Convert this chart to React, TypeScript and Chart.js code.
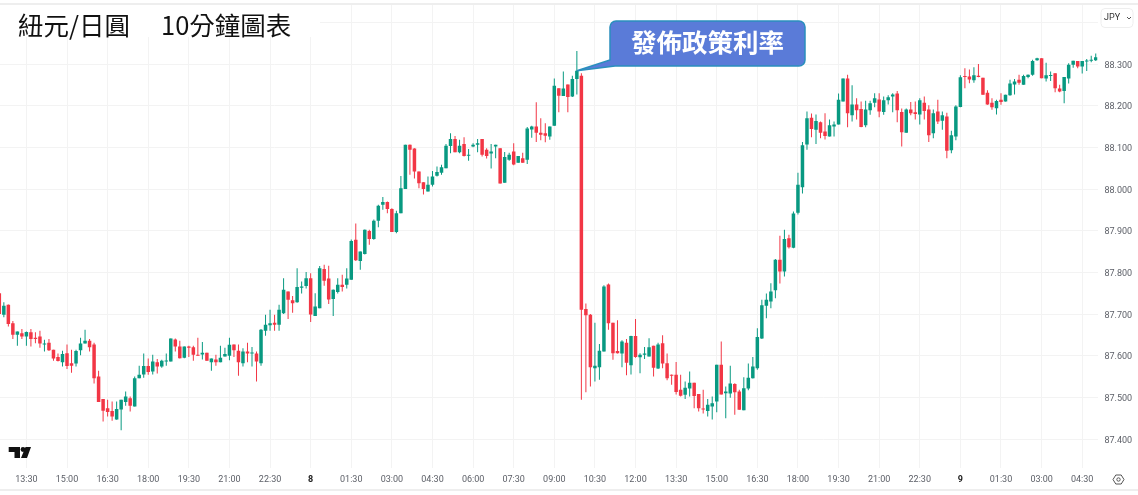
import { Chart, registerables } from "chart.js";
import { useEffect, useRef } from "react";

Chart.register(...registerables);

// NZD/JPY 10 minute candles
const opens = [
  87.750, 87.698, 87.722, 87.678, 87.650, 87.654, 87.646, 87.656, 87.643, 87.646,
  87.627, 87.631, 87.614, 87.597, 87.584, 87.606, 87.582, 87.581, 87.613, 87.629,
  87.636, 87.627, 87.550, 87.496, 87.474, 87.467, 87.447, 87.471, 87.489, 87.498,
  87.478, 87.546, 87.555, 87.575, 87.562, 87.584, 87.574, 87.586, 87.586, 87.639,
  87.622, 87.595, 87.622, 87.620, 87.602, 87.603, 87.607, 87.584, 87.591, 87.584,
  87.598, 87.600, 87.627, 87.612, 87.582, 87.610, 87.605, 87.605, 87.582, 87.660,
  87.673, 87.679, 87.674, 87.702, 87.754, 87.733, 87.728, 87.763, 87.767, 87.786,
  87.695, 87.714, 87.808, 87.785, 87.736, 87.753, 87.770, 87.770, 87.782, 87.878,
  87.827, 87.844, 87.899, 87.880, 87.924, 87.962, 87.969, 87.952, 87.897, 87.942,
  88.000, 88.106, 88.097, 88.042, 88.016, 87.994, 88.010, 88.032, 88.039, 88.050,
  88.103, 88.120, 88.088, 88.108, 88.080, 88.102, 88.106, 88.120, 88.094, 88.085,
  88.102, 88.098, 88.015, 88.070, 88.090, 88.063, 88.074, 88.070, 88.143, 88.150,
  88.135, 88.134, 88.126, 88.152, 88.242, 88.223, 88.251, 88.222, 88.264, 88.272,
  87.712, 87.698, 87.570, 87.572, 87.610, 87.771, 87.679, 87.611, 87.605, 87.631,
  87.577, 87.647, 87.596, 87.602, 87.598, 87.624, 87.569, 87.630, 87.582, 87.554,
  87.554, 87.518, 87.506, 87.521, 87.535, 87.508, 87.473, 87.467, 87.478, 87.490,
  87.578, 87.510, 87.509, 87.532, 87.514, 87.469, 87.521, 87.546, 87.570, 87.641,
  87.720, 87.730, 87.757, 87.830, 87.802, 87.882, 87.859, 87.943, 88.004, 88.107,
  88.171, 88.142, 88.160, 88.138, 88.126, 88.150, 88.155, 88.210, 88.265, 88.177,
  88.203, 88.192, 88.153, 88.189, 88.207, 88.215, 88.185, 88.213, 88.222, 88.229,
  88.185, 88.135, 88.191, 88.184, 88.179, 88.207, 88.191, 88.134, 88.186, 88.164,
  88.174, 88.093, 88.126, 88.197, 88.270, 88.270, 88.261, 88.272, 88.267, 88.231,
  88.207, 88.194, 88.214, 88.210, 88.225, 88.251, 88.262, 88.250, 88.269, 88.274,
  88.309, 88.314, 88.265, 88.271, 88.278, 88.241, 88.235, 88.265, 88.298, 88.307,
  88.294, 88.306, 88.308, 88.309,
];
const highs = [
  87.750, 87.728, 87.723, 87.683, 87.658, 87.664, 87.658, 87.664, 87.656, 87.660,
  87.638, 87.640, 87.614, 87.605, 87.612, 87.627, 87.614, 87.614, 87.643, 87.662,
  87.640, 87.631, 87.564, 87.496, 87.494, 87.490, 87.490, 87.494, 87.514, 87.502,
  87.550, 87.576, 87.605, 87.593, 87.602, 87.592, 87.590, 87.605, 87.641, 87.641,
  87.636, 87.622, 87.624, 87.624, 87.643, 87.633, 87.607, 87.593, 87.602, 87.624,
  87.619, 87.643, 87.627, 87.627, 87.618, 87.631, 87.621, 87.610, 87.664, 87.698,
  87.710, 87.698, 87.722, 87.786, 87.754, 87.743, 87.810, 87.778, 87.801, 87.798,
  87.750, 87.815, 87.818, 87.816, 87.759, 87.786, 87.794, 87.810, 87.879, 87.917,
  87.850, 87.903, 87.902, 87.927, 87.962, 87.981, 87.970, 87.954, 87.948, 88.031,
  88.106, 88.107, 88.098, 88.042, 88.016, 88.030, 88.043, 88.054, 88.058, 88.108,
  88.134, 88.127, 88.118, 88.124, 88.096, 88.110, 88.120, 88.120, 88.098, 88.108,
  88.106, 88.098, 88.089, 88.087, 88.110, 88.079, 88.087, 88.149, 88.152, 88.208,
  88.170, 88.158, 88.150, 88.265, 88.242, 88.282, 88.251, 88.272, 88.331, 88.278,
  87.725, 87.700, 87.679, 87.628, 87.769, 87.773, 87.679, 87.685, 87.637, 87.640,
  87.648, 87.688, 87.606, 87.621, 87.642, 87.624, 87.631, 87.649, 87.605, 87.555,
  87.585, 87.554, 87.538, 87.562, 87.535, 87.508, 87.518, 87.496, 87.502, 87.578,
  87.634, 87.526, 87.576, 87.534, 87.518, 87.548, 87.581, 87.597, 87.666, 87.734,
  87.749, 87.774, 87.832, 87.888, 87.902, 87.890, 87.946, 88.039, 88.113, 88.186,
  88.181, 88.179, 88.162, 88.182, 88.167, 88.162, 88.229, 88.265, 88.274, 88.249,
  88.218, 88.210, 88.212, 88.212, 88.230, 88.230, 88.222, 88.225, 88.230, 88.235,
  88.193, 88.193, 88.209, 88.210, 88.218, 88.222, 88.201, 88.191, 88.214, 88.186,
  88.183, 88.140, 88.201, 88.273, 88.290, 88.287, 88.292, 88.300, 88.267, 88.237,
  88.218, 88.214, 88.230, 88.226, 88.262, 88.264, 88.274, 88.274, 88.275, 88.310,
  88.315, 88.314, 88.303, 88.282, 88.278, 88.250, 88.269, 88.302, 88.308, 88.307,
  88.307, 88.312, 88.320, 88.325,
];
const lows = [
  87.700, 87.692, 87.670, 87.640, 87.624, 87.640, 87.624, 87.622, 87.630, 87.619,
  87.610, 87.611, 87.588, 87.586, 87.574, 87.568, 87.559, 87.574, 87.601, 87.629,
  87.610, 87.533, 87.489, 87.442, 87.454, 87.444, 87.446, 87.421, 87.480, 87.466,
  87.478, 87.546, 87.547, 87.554, 87.555, 87.557, 87.571, 87.576, 87.586, 87.610,
  87.593, 87.594, 87.597, 87.588, 87.600, 87.591, 87.588, 87.564, 87.576, 87.584,
  87.598, 87.589, 87.597, 87.552, 87.574, 87.584, 87.574, 87.538, 87.576, 87.648,
  87.660, 87.660, 87.660, 87.700, 87.688, 87.703, 87.727, 87.749, 87.761, 87.681,
  87.695, 87.714, 87.768, 87.724, 87.695, 87.749, 87.754, 87.761, 87.782, 87.827,
  87.806, 87.843, 87.866, 87.878, 87.908, 87.950, 87.942, 87.897, 87.894, 87.942,
  88.000, 88.034, 88.025, 88.002, 87.987, 87.994, 88.006, 88.030, 88.034, 88.050,
  88.086, 88.088, 88.086, 88.078, 88.068, 88.100, 88.088, 88.078, 88.073, 88.049,
  88.074, 88.013, 88.015, 88.068, 88.057, 88.063, 88.063, 88.060, 88.123, 88.113,
  88.117, 88.112, 88.118, 88.152, 88.184, 88.223, 88.184, 88.221, 88.227, 87.494,
  87.512, 87.526, 87.538, 87.542, 87.610, 87.662, 87.590, 87.605, 87.572, 87.553,
  87.555, 87.595, 87.558, 87.592, 87.598, 87.550, 87.568, 87.570, 87.541, 87.530,
  87.507, 87.502, 87.496, 87.502, 87.474, 87.466, 87.461, 87.454, 87.447, 87.464,
  87.507, 87.450, 87.499, 87.458, 87.470, 87.469, 87.517, 87.545, 87.566, 87.640,
  87.690, 87.714, 87.738, 87.773, 87.790, 87.857, 87.858, 87.939, 87.989, 88.094,
  88.124, 88.108, 88.122, 88.119, 88.126, 88.126, 88.155, 88.210, 88.148, 88.162,
  88.167, 88.148, 88.148, 88.178, 88.196, 88.172, 88.178, 88.203, 88.184, 88.160,
  88.102, 88.135, 88.177, 88.167, 88.155, 88.167, 88.113, 88.122, 88.156, 88.142,
  88.074, 88.086, 88.117, 88.196, 88.242, 88.254, 88.255, 88.268, 88.226, 88.202,
  88.190, 88.179, 88.202, 88.210, 88.224, 88.227, 88.250, 88.250, 88.266, 88.272,
  88.308, 88.266, 88.258, 88.259, 88.232, 88.232, 88.206, 88.253, 88.291, 88.290,
  88.277, 88.283, 88.304, 88.307,
];
const closes = [
  87.700, 87.720, 87.676, 87.650, 87.658, 87.646, 87.657, 87.640, 87.640, 87.629,
  87.629, 87.613, 87.593, 87.587, 87.604, 87.575, 87.576, 87.611, 87.629, 87.636,
  87.620, 87.546, 87.489, 87.468, 87.465, 87.454, 87.472, 87.494, 87.502, 87.480,
  87.546, 87.554, 87.575, 87.561, 87.586, 87.574, 87.588, 87.588, 87.641, 87.622,
  87.594, 87.622, 87.619, 87.602, 87.600, 87.607, 87.588, 87.593, 87.584, 87.595,
  87.604, 87.626, 87.613, 87.584, 87.610, 87.605, 87.607, 87.586, 87.662, 87.674,
  87.678, 87.674, 87.710, 87.758, 87.734, 87.726, 87.765, 87.766, 87.786, 87.699,
  87.718, 87.810, 87.780, 87.735, 87.758, 87.770, 87.765, 87.785, 87.875, 87.829,
  87.850, 87.902, 87.880, 87.924, 87.960, 87.969, 87.952, 87.897, 87.942, 88.002,
  88.106, 88.094, 88.042, 88.014, 88.000, 88.010, 88.030, 88.041, 88.052, 88.104,
  88.120, 88.088, 88.104, 88.079, 88.082, 88.106, 88.110, 88.082, 88.079, 88.090,
  88.106, 88.013, 88.077, 88.082, 88.059, 88.079, 88.063, 88.145, 88.150, 88.135,
  88.130, 88.128, 88.150, 88.248, 88.224, 88.241, 88.221, 88.264, 88.284, 87.710,
  87.697, 87.572, 87.576, 87.612, 87.766, 87.678, 87.606, 87.606, 87.634, 87.583,
  87.647, 87.597, 87.602, 87.605, 87.620, 87.571, 87.627, 87.581, 87.546, 87.552,
  87.513, 87.504, 87.523, 87.535, 87.503, 87.474, 87.471, 87.482, 87.486, 87.578,
  87.507, 87.514, 87.533, 87.512, 87.470, 87.522, 87.547, 87.574, 87.645, 87.721,
  87.734, 87.754, 87.830, 87.802, 87.880, 87.860, 87.941, 88.010, 88.105, 88.170,
  88.144, 88.163, 88.135, 88.127, 88.153, 88.155, 88.214, 88.265, 88.182, 88.203,
  88.189, 88.149, 88.191, 88.206, 88.218, 88.186, 88.213, 88.220, 88.227, 88.189,
  88.136, 88.191, 88.182, 88.180, 88.213, 88.187, 88.129, 88.182, 88.162, 88.177,
  88.092, 88.129, 88.198, 88.268, 88.269, 88.263, 88.273, 88.269, 88.226, 88.203,
  88.196, 88.211, 88.209, 88.226, 88.253, 88.258, 88.255, 88.271, 88.274, 88.307,
  88.314, 88.266, 88.273, 88.273, 88.242, 88.234, 88.269, 88.298, 88.308, 88.294,
  88.307, 88.308, 88.310, 88.316,
];

const timeLabels = [
  "13:30", "15:00", "16:30", "18:00", "19:30", "21:00", "22:30", "8", "01:30",
  "03:00", "04:30", "06:00", "07:30", "09:00", "10:30", "12:00", "13:30", "15:00",
  "16:30", "18:00", "19:30", "21:00", "22:30", "9", "01:30", "03:00", "04:30",
];
const priceTicks = [87.4, 87.5, 87.6, 87.7, 87.8, 87.9, 88.0, 88.1, 88.2, 88.3, 88.4];

const UP = "#089981";
const DOWN = "#F23645";
const GRID = "#f3f3f3";
const TEXT = "#5d6068";
const TICK_FONT = "Roboto";
const CJK = '"Noto Sans CJK TC"';
const CALLOUT_CANDLE = 128;

const candleColors = closes.map((c, i) => (c >= opens[i] ? UP : DOWN));

const extras = {
  id: "extras",
  afterDraw(chart: Chart) {
    const ctx = chart.ctx;
    ctx.save();

    // white strip behind the title hides the grid there
    ctx.fillStyle = "#fff";
    ctx.fillRect(0, 5, 320, 32);

    // top and bottom bands
    ctx.fillStyle = "#eeeeee";
    ctx.fillRect(0, 3, 1138, 2);
    ctx.fillRect(0, 489, 1138, 2);

    // title
    ctx.fillStyle = "#111";
    ctx.textBaseline = "middle";
    ctx.textAlign = "left";
    ctx.font = `400 25.5px ${CJK}`;
    ctx.fillText("紐元/日圓", 18, 25);
    ctx.fillText("10分鐘圖表", 161, 25);

    // callout
    const tipX = chart.scales.x.getPixelForValue(CALLOUT_CANDLE);
    const tipY = chart.scales.y.getPixelForValue(closes[CALLOUT_CANDLE]);
    const l = 610, r = 805, t = 21, b = 66, rad = 6;
    ctx.beginPath();
    ctx.moveTo(l + rad, t);
    ctx.lineTo(r - rad, t);
    ctx.arcTo(r, t, r, t + rad, rad);
    ctx.lineTo(r, b - rad);
    ctx.arcTo(r, b, r - rad, b, rad);
    ctx.lineTo(615, b);
    ctx.lineTo(tipX, tipY);
    ctx.lineTo(l, 60);
    ctx.lineTo(l, t + rad);
    ctx.arcTo(l, t, l + rad, t, rad);
    ctx.closePath();
    ctx.fillStyle = "#5a7bd8";
    ctx.fill();
    ctx.strokeStyle = "#2a8fbd";
    ctx.lineWidth = 1.5;
    ctx.stroke();
    ctx.fillStyle = "#fff";
    ctx.textAlign = "center";
    ctx.font = `700 25.5px ${CJK}`;
    ctx.fillText("發佈政策利率", 707.5, 42);

    // JPY button
    ctx.strokeStyle = "#eeeeee";
    ctx.lineWidth = 1;
    ctx.beginPath();
    ctx.roundRect(1101, 8.5, 32, 19, 4);
    ctx.stroke();
    ctx.fillStyle = "#333";
    ctx.textAlign = "left";
    ctx.font = `9px ${TICK_FONT}`;
    ctx.fillText("JPY", 1104, 18);
    ctx.strokeStyle = "#555";
    ctx.beginPath();
    ctx.moveTo(1127, 17);
    ctx.lineTo(1129, 19);
    ctx.lineTo(1131, 17);
    ctx.stroke();

    // logo
    ctx.fillStyle = "#111";
    ctx.beginPath();
    ctx.moveTo(8.7, 447);
    ctx.lineTo(20, 447);
    ctx.lineTo(20, 458);
    ctx.lineTo(14.5, 458);
    ctx.lineTo(14.5, 452);
    ctx.lineTo(8.7, 452);
    ctx.closePath();
    ctx.moveTo(31, 447);
    ctx.lineTo(27, 458);
    ctx.lineTo(21, 458);
    ctx.lineTo(25.5, 447);
    ctx.closePath();
    ctx.fill();
    ctx.beginPath();
    ctx.arc(23, 449.5, 2.4, 0, Math.PI * 2);
    ctx.fill();

    // settings icon
    ctx.strokeStyle = "#555";
    ctx.lineWidth = 1;
    ctx.beginPath();
    const cx = 1118.5, cy = 479.5;
    ctx.moveTo(cx - 5.5, cy);
    ctx.lineTo(cx - 2.7, cy - 4.5);
    ctx.lineTo(cx + 2.7, cy - 4.5);
    ctx.lineTo(cx + 5.5, cy);
    ctx.lineTo(cx + 2.7, cy + 4.5);
    ctx.lineTo(cx - 2.7, cy + 4.5);
    ctx.closePath();
    ctx.stroke();
    ctx.beginPath();
    ctx.arc(cx, cy, 1.7, 0, Math.PI * 2);
    ctx.stroke();

    ctx.restore();
  },
};

export default function App() {
  const canvasRef = useRef<HTMLCanvasElement | null>(null);

  useEffect(() => {
    if (!canvasRef.current) return;

    const chart = new Chart(canvasRef.current, {
      type: "bar",
      data: {
        datasets: [
          {
            label: "body",
            order: 1,
            grouped: false,
            barThickness: 3.5,
            minBarLength: 1,
            inflateAmount: 0,
            data: closes.map((c, i) => ({ x: i, y: [opens[i], c] })),
            backgroundColor: candleColors,
          },
          {
            label: "wick",
            order: 2,
            grouped: false,
            barThickness: 1,
            inflateAmount: 0,
            data: highs.map((h, i) => ({ x: i, y: [lows[i], h] })),
            backgroundColor: candleColors,
          },
        ] as any,
      },
      options: {
        animation: false,
        responsive: false,
        layout: { padding: { top: 5, left: 0, right: 0, bottom: 0 } },
        plugins: { legend: { display: false }, tooltip: { enabled: false } },
        scales: {
          x: {
            type: "linear",
            offset: false,
            min: 0.149,
            max: 243.39,
            grid: { color: GRID, drawTicks: false, offset: false },
            border: { display: false },
            afterBuildTicks: (scale: any) => {
              scale.ticks = timeLabels.map((_, k) => ({ value: 6 + 9 * k }));
            },
            afterFit: (scale: any) => {
              scale.height = 27;
              scale.paddingLeft = 0;
              scale.paddingRight = 0;
            },
            ticks: {
              autoSkip: false,
              maxRotation: 0,
              padding: 6.5,
              font: (c: any) => ({
                family: TICK_FONT,
                size: 9,
                weight: timeLabels[c.index]?.length === 1 ? "bold" : "normal",
              }),
              color: (c: any) => (timeLabels[c.index]?.length === 1 ? "#222" : TEXT),
              callback: (_v: any, i: number) => timeLabels[i],
            },
          },
          y: {
            position: "right",
            min: 87.3305,
            max: 88.4416,
            grid: { color: GRID, drawTicks: false },
            border: { display: false },
            afterBuildTicks: (scale: any) => {
              scale.ticks = priceTicks.map((value) => ({ value }));
            },
            afterFit: (scale: any) => {
              scale.width = 40.5;
              scale.paddingTop = 0;
              scale.paddingBottom = 0;
            },
            ticks: {
              padding: 7,
              labelOffset: 1.5,
              font: { family: TICK_FONT, size: 9 },
              color: TEXT,
              callback: (v: any) => (v > 88.35 ? "" : Number(v).toFixed(3)),
            },
          },
        },
      },
      plugins: [extras],
    } as any);

    return () => {
      chart.destroy();
    };
  }, []);

  return (
    <div style={{ position: "absolute", left: 0, top: 0, width: 1138, height: 495, background: "#fff" }}>
      <canvas ref={canvasRef} width={1138} height={495} style={{ display: "block" }} />
    </div>
  );
}
